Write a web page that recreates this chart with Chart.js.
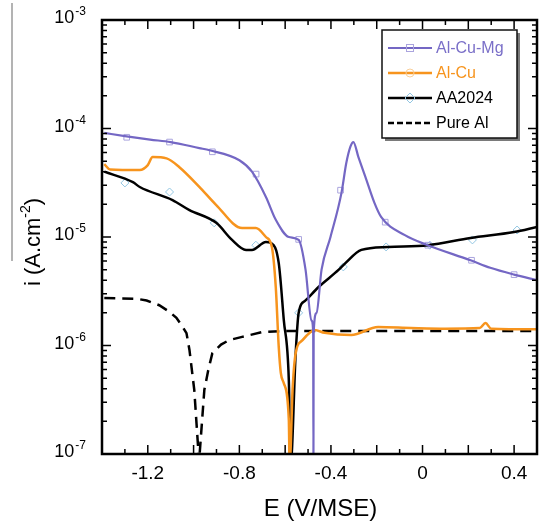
<!DOCTYPE html>
<html>
<head>
<meta charset="utf-8">
<script src="https://cdn.jsdelivr.net/npm/chart.js@4.4.1/dist/chart.umd.min.js"></script>
<style>
  html, body { margin: 0; padding: 0; background: #fff; }
  #chart { display: block; }
</style>
</head>
<body>
<canvas id="chart" width="542" height="523"></canvas>
<script>
// values (E in V/MSE, i in A.cm-2)
const mgE = [-1.39, -1.30, -1.19, -1.10, -0.975, -0.93, -0.80, -0.745, -0.684, -0.641, -0.584, -0.541, -0.511, -0.485, -0.4775, -0.4765, -0.4755, -0.463, -0.441, -0.402, -0.354, -0.333, -0.315, -0.302, -0.28, -0.25, -0.21, -0.181, -0.077, 0.023, 0.21, 0.296, 0.40, 0.50];
const mgI = [9.1e-5, 8.5e-5, 7.9e-5, 7.5e-5, 6.6e-5, 6.3e-5, 5.1e-5, 4.0e-5, 2.34e-5, 1.44e-5, 1.0e-5, 9.4e-6, 5.0e-6, 1.7e-6, 1.3e-6, 8e-8, 1.3e-6, 2.0e-6, 5.0e-6, 1.0e-5, 2.55e-5, 4.8e-5, 6.8e-5, 7.5e-5, 5.45e-5, 3.6e-5, 2.06e-5, 1.53e-5, 1.04e-5, 8.4e-6, 6.1e-6, 5.2e-6, 4.5e-6, 4.0e-6];

const cuE = [-1.39, -1.365, -1.235, -1.20, -1.179, -1.118, -1.062, -0.975, -0.901, -0.788, -0.728, -0.684, -0.658, -0.641, -0.628, -0.619, -0.606, -0.584, -0.5805, -0.567, -0.554, -0.524, -0.489, -0.472, -0.428, -0.311, -0.194, -0.05, 0.10, 0.25, 0.275, 0.30, 0.50];
const cuI = [4.7e-5, 4.2e-5, 4.15e-5, 4.6e-5, 5.45e-5, 5.3e-5, 4.4e-5, 2.9e-5, 1.97e-5, 1.21e-5, 1.21e-5, 1.0e-5, 8.1e-6, 3.46e-6, 9.7e-7, 5.6e-7, 4.5e-7, 2.06e-7, 8e-8, 4.15e-7, 8.5e-7, 1.12e-6, 1.33e-6, 1.39e-6, 1.31e-6, 1.25e-6, 1.48e-6, 1.45e-6, 1.43e-6, 1.45e-6, 1.61e-6, 1.43e-6, 1.41e-6];

const aaE = [-1.39, -1.265, -1.235, -1.092, -1.018, -0.901, -0.832, -0.771, -0.745, -0.684, -0.662, -0.628, -0.606, -0.584, -0.576, -0.554, -0.541, -0.511, -0.454, -0.367, -0.337, -0.267, -0.15, 0.023, 0.21, 0.40, 0.50];
const aaI = [4.0e-5, 3.2e-5, 2.89e-5, 2.19e-5, 1.77e-5, 1.35e-5, 9.4e-6, 7.6e-6, 7.6e-6, 9.0e-6, 8.8e-6, 5.75e-6, 1.72e-6, 4.8e-7, 8e-8, 8.5e-7, 2.0e-6, 2.6e-6, 3.46e-6, 4.97e-6, 5.75e-6, 7.6e-6, 8.1e-6, 8.4e-6, 9.8e-6, 1.11e-5, 1.24e-5];

const alE = [-1.39, -1.25, -1.205, -1.15, -1.105, -1.075, -1.049, -1.031, -1.018, -0.997, -0.976, -0.953, -0.936, -0.918, -0.88, -0.845, -0.788, -0.701, -0.6, 0.5];
const alI = [2.74e-6, 2.7e-6, 2.6e-6, 2.35e-6, 2.04e-6, 1.8e-6, 1.5e-6, 1.3e-6, 9.1e-7, 3.9e-7, 8.5e-8, 3.9e-7, 5.9e-7, 8.5e-7, 1.02e-6, 1.12e-6, 1.2e-6, 1.33e-6, 1.36e-6, 1.36e-6];

// sparse open markers drawn on the curves
const mgMarkE = [-1.292, -1.105, -0.918, -0.727, -0.541, -0.358, -0.163, 0.023, 0.214, 0.40];
const mgMarkI = [8.3e-5, 7.5e-5, 6.1e-5, 3.8e-5, 9.5e-6, 2.7e-5, 1.37e-5, 8.4e-6, 6.1e-6, 4.5e-6];
const aaMarkE = [-1.30, -1.105, -0.910, -0.728, -0.541, -0.346, -0.159, 0.032, 0.218, 0.413];
const aaMarkI = [3.15e-5, 2.6e-5, 1.35e-5, 8.4e-6, 2.0e-6, 5.3e-6, 8.1e-6, 8.4e-6, 9.4e-6, 1.16e-5];

const seriesNames = ['Al-Cu-Mg', 'Al-Cu', 'AA2024', 'Pure Al'];
const xTickLabels = [-1.2, -0.8, -0.4, 0, 0.4];
const yTickPowers = [-7, -6, -5, -4, -3];

const purple = '#7467c4';
const orange = '#f7941d';
const font = '"Liberation Sans", Arial, sans-serif';

const toPts = (xs, ys) => xs.map((e, k) => ({ x: e, y: ys[k] }));

const curve = (label, xs, ys, color, extra) => Object.assign({
    label: label,
    data: toPts(xs, ys),
    showLine: true,
    borderColor: color,
    borderWidth: 2.5,
    pointRadius: 0,
    cubicInterpolationMode: 'monotone',
    order: 1
}, extra || {});

const markers = (xs, ys, color, style) => ({
    label: '',
    data: toPts(xs, ys),
    showLine: false,
    pointStyle: style,
    pointRadius: 4,
    borderColor: color,
    borderWidth: 1,
    backgroundColor: 'rgba(0,0,0,0)',
    order: 2
});

const decor = {
    id: 'decor',
    afterDraw(chart) {
        const { ctx, chartArea: a, scales: { x, y } } = chart;
        ctx.save();

        // stray grey rule at the far left of the original figure
        ctx.strokeStyle = '#9a9a9a';
        ctx.lineWidth = 1.5;
        ctx.beginPath();
        ctx.moveTo(12, 3);
        ctx.lineTo(12, 261);
        ctx.stroke();

        // inward ticks on all four sides
        ctx.strokeStyle = '#000';
        ctx.lineWidth = 1.5;
        ctx.beginPath();
        for (let k = -13; k <= 4; k++) {
            const px = x.getPixelForValue(k / 10);
            const len = k % 2 === 0 ? 9 : 5;
            ctx.moveTo(px, a.bottom); ctx.lineTo(px, a.bottom - len);
            ctx.moveTo(px, a.top); ctx.lineTo(px, a.top + len);
        }
        for (let d = -7; d <= -4; d++) {
            for (let m = 1; m <= 9; m++) {
                const py = y.getPixelForValue(m * Math.pow(10, d));
                const len = m === 1 ? 9 : 5;
                ctx.moveTo(a.left, py); ctx.lineTo(a.left + len, py);
                ctx.moveTo(a.right, py); ctx.lineTo(a.right - len, py);
            }
        }
        ctx.stroke();

        // frame
        ctx.lineWidth = 2.5;
        ctx.strokeRect(a.left, a.top, a.right - a.left, a.bottom - a.top);

        // x tick labels
        ctx.fillStyle = '#000';
        ctx.font = '19px ' + font;
        ctx.textAlign = 'center';
        ctx.textBaseline = 'middle';
        xTickLabels.forEach(v => {
            ctx.fillText(String(v), x.getPixelForValue(v), 474);
        });

        // y tick labels 10^n
        ctx.textBaseline = 'alphabetic';
        ctx.textAlign = 'left';
        yTickPowers.forEach(p => {
            const py = y.getPixelForValue(Math.pow(10, p));
            ctx.font = '12px ' + font;
            const sup = String(p);
            const sw = ctx.measureText(sup).width;
            ctx.font = '18px ' + font;
            const bw = ctx.measureText('10').width;
            const right = 86;
            ctx.fillText('10', right - sw - bw - 1, py + 3);
            ctx.font = '12px ' + font;
            ctx.fillText(sup, right - sw, py - 5);
        });

        // axis titles
        ctx.font = '24px ' + font;
        ctx.textAlign = 'center';
        ctx.fillText('E (V/MSE)', (a.left + a.right) / 2 + 1, 516);

        ctx.save();
        ctx.translate(40, 242);
        ctx.rotate(-Math.PI / 2);
        ctx.textAlign = 'left';
        ctx.font = '22px ' + font;
        const t1 = 'i (A.cm', t3 = ')';
        const w1 = ctx.measureText(t1).width, w3 = ctx.measureText(t3).width;
        ctx.font = '14px ' + font;
        const w2 = ctx.measureText('-2').width;
        let sx = -(w1 + w2 + w3) / 2;
        ctx.font = '22px ' + font;
        ctx.fillText(t1, sx, 0);
        ctx.font = '14px ' + font;
        ctx.fillText('-2', sx + w1, -10);
        ctx.font = '22px ' + font;
        ctx.fillText(t3, sx + w1 + w2, 0);
        ctx.restore();

        // legend box
        const lx = 382, ly = 30, lw = 135, lh = 108;
        ctx.fillStyle = '#7a7a7a';
        ctx.fillRect(lx + 3, ly + 3, lw, lh);
        ctx.fillStyle = '#fff';
        ctx.fillRect(lx, ly, lw, lh);
        ctx.strokeStyle = '#111';
        ctx.lineWidth = 1.5;
        ctx.strokeRect(lx, ly, lw, lh);

        const rows = [48, 73, 98, 123];
        const colors = [purple, orange, '#000', '#000'];
        const textColors = ['#7a6fc8', orange, '#000', '#000'];
        rows.forEach((ry, k) => {
            ctx.strokeStyle = colors[k];
            ctx.lineWidth = k === 0 ? 2.2 : 2.5;
            ctx.setLineDash(k === 3 ? [6, 3] : []);
            ctx.beginPath();
            ctx.moveTo(388, ry); ctx.lineTo(432, ry);
            ctx.stroke();
            ctx.setLineDash([]);
            ctx.font = '16px ' + font;
            ctx.fillStyle = textColors[k];
            ctx.textAlign = 'left';
            ctx.textBaseline = 'middle';
            ctx.fillText(seriesNames[k], 436, ry + 1);
        });
        ctx.lineWidth = 1;
        ctx.strokeStyle = '#aaa4de';
        ctx.strokeRect(406.5, 44.5, 7, 7);
        ctx.strokeStyle = '#f9cf9a';
        ctx.beginPath();
        ctx.arc(410, 73, 4, 0, Math.PI * 2);
        ctx.stroke();
        ctx.strokeStyle = '#92c6e2';
        ctx.beginPath();
        ctx.moveTo(410, 93); ctx.lineTo(415, 98); ctx.lineTo(410, 103); ctx.lineTo(405, 98); ctx.closePath();
        ctx.stroke();

        ctx.restore();
    }
};

new Chart(document.getElementById('chart').getContext('2d'), {
    type: 'scatter',
    data: {
        datasets: [
            curve(seriesNames[0], mgE, mgI, purple, { borderWidth: 2.2 }),
            curve(seriesNames[1], cuE, cuI, orange),
            curve(seriesNames[2], aaE, aaI, '#000'),
            curve(seriesNames[3], alE, alI, '#000', { borderDash: [11, 7], cubicInterpolationMode: 'default', tension: 0 }),
            markers(mgMarkE, mgMarkI, '#aaa4de', 'rect'),
            markers(aaMarkE, aaMarkI, '#92c6e2', 'rectRot')
        ]
    },
    plugins: [decor],
    options: {
        responsive: false,
        devicePixelRatio: 1,
        animation: false,
        layout: { padding: { left: 102, top: 20, right: 2, bottom: 69 } },
        plugins: { legend: { display: false }, tooltip: { enabled: false } },
        scales: {
            x: { type: 'linear', min: -1.4, max: 0.5, display: false },
            y: { type: 'logarithmic', min: 1e-7, max: 1e-3, display: false }
        }
    }
});
</script>
</body>
</html>
